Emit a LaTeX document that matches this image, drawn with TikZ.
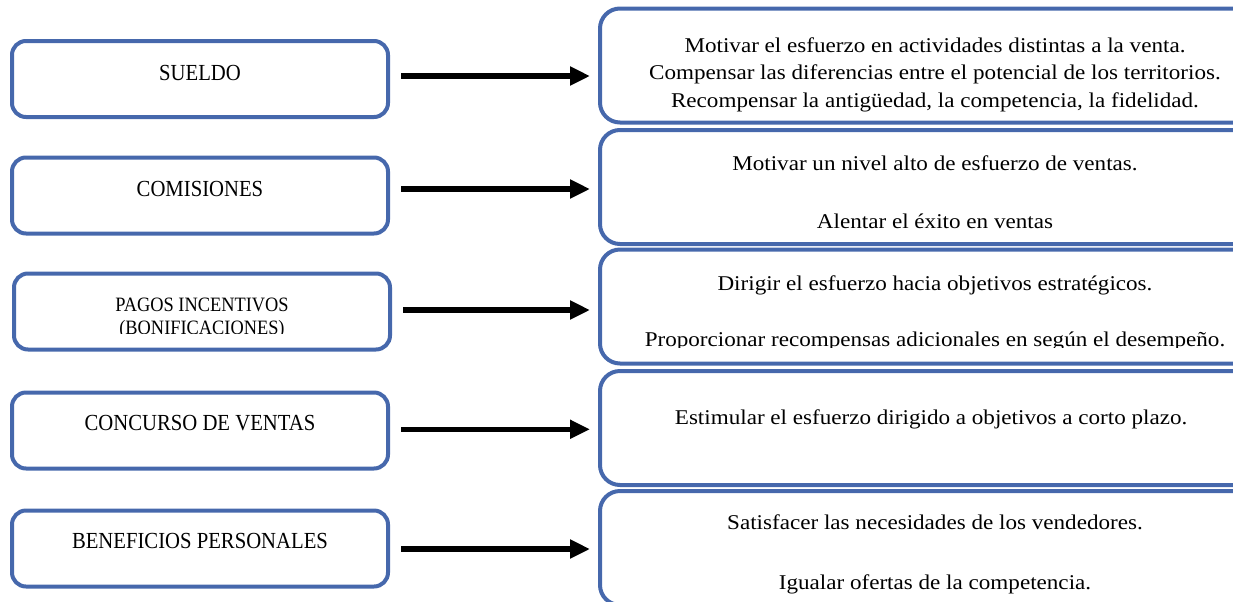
\documentclass[tikz,border=0pt]{standalone}
\usepackage{fontspec}
\setmainfont{Liberation Serif}
\newfontfamily\widefont{Liberation Serif}[FakeStretch=1.1]
\newfontfamily\narrowfont{Liberation Serif}[FakeStretch=0.9]
\usepackage{tikz}
\usetikzlibrary{arrows.meta,positioning}
\definecolor{boxblue}{RGB}{70,104,172}

\begin{document}
\begin{tikzpicture}[
    x=0.5pt, y=-0.5pt,
    leftbox/.style={draw=boxblue, line width=2pt, rounded corners=7pt,
        minimum width=188pt, minimum height=38pt, outer sep=0pt, inner sep=0pt},
    rightbox/.style={draw=boxblue, line width=2pt, rounded corners=10pt,
        minimum width=335pt, minimum height=57pt, outer sep=0pt, inner sep=0pt},
    lefttext/.style={align=center, inner sep=0pt,
        font=\narrowfont\fontsize{11.5}{12}\selectfont},
    righttext/.style={align=center, anchor=north, inner sep=0pt,
        font=\widefont\fontsize{10.5}{13.75}\selectfont},
    blackarr/.style={-{Triangle[length=10pt,width=9pt]}, line width=2.6pt,
        shorten <=6.5pt, shorten >=5pt}
]
    \useasboundingbox (0,0) rectangle (1233,601);
    \clip (0,0) rectangle (1233,601);

    % --- CAJAS IZQUIERDA ---
    \node[leftbox] (l1) at (200,79) {};
    \node[leftbox] (l2) at (200,195.5) {};
    \node[leftbox] (l3) at (202,311.5) {};
    \node[leftbox] (l4) at (200,430.5) {};
    \node[leftbox] (l5) at (200,548.5) {};

    \node[lefttext] (t1) at (200,73) {SUELDO};
    \node[lefttext] (t2) at (200,189) {COMISIONES};
    \begin{scope}
        \clip (14,273) rectangle (390,333);
        \node[lefttext, anchor=north, font=\narrowfont\fontsize{10.2}{11.5}\selectfont]
            (t3) at (202,298) {PAGOS INCENTIVOS\\(BONIFICACIONES)};
    \end{scope}
    \node[lefttext] (t4) at (200,423) {CONCURSO DE VENTAS};
    \node[lefttext] (t5) at (200,541) {BENEFICIOS PERSONALES};

    % --- CAJAS DERECHA ---
    \node[rightbox] (r1) at (935,65.5) {};
    \node[rightbox] (r2) at (935,187) {};
    \node[rightbox] (r3) at (935,306.5) {};
    \node[rightbox] (r4) at (935,428) {};
    \node[rightbox] (r5) at (935,548) {};

    \node[righttext] (d1) at (935,37) {
        Motivar el esfuerzo en actividades distintas a la venta.\\
        Compensar las diferencias entre el potencial de los territorios.\\
        Recompensar la antigüedad, la competencia, la fidelidad.
    };
    \node[righttext] (d2) at (935,155) {
        Motivar un nivel alto de esfuerzo de ventas.\\[15.5pt]
        Alentar el éxito en ventas
    };
    \begin{scope}
        \clip (600,250) rectangle (1233,347);
        \node[righttext] (d3) at (935,275) {
            Dirigir el esfuerzo hacia objetivos estratégicos.\\[14.5pt]
            Proporcionar recompensas adicionales en según el desempeño.
        };
    \end{scope}
    \node[righttext] (d4) at (935,409) {
        Estimular el esfuerzo dirigido a objetivos a corto plazo.
    };
    \node[righttext] (d5) at (935,514) {
        Satisfacer las necesidades de los vendedores.\\[16.5pt]
        Igualar ofertas de la competencia.
    };

    % --- FLECHAS ---
    \foreach \i/\dy in {1/1.5, 2/3.25, 3/0.75, 4/0.6, 5/-0.25}
        \draw[blackarr] ([yshift=\dy pt]l\i.east) -- ([yshift=\dy pt]l\i.east -| r\i.west);

\end{tikzpicture}
\end{document}
